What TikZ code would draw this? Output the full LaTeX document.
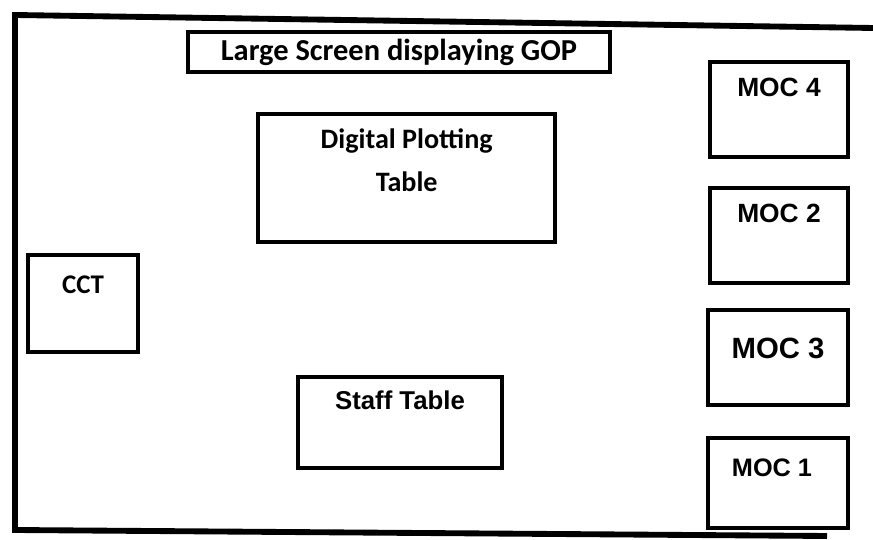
\documentclass[tikz,border=0pt]{standalone}
\usepackage{fontspec}
\setmainfont{Carlito}
\newfontfamily\arialfont{Liberation Sans}
\usetikzlibrary{positioning}

\begin{document}
\begin{tikzpicture}[
    wall/.style={line width=5pt},
    desk/.style={draw, rectangle, line width=3pt, inner sep=0pt},
    desklabel/.style={inner sep=0pt, font=\bfseries\fontsize{24}{36}\selectfont, align=center},
    moclabel/.style={inner sep=0pt, font=\arialfont\bfseries\fontsize{22.5}{27}\selectfont}
  ]
  \useasboundingbox (0,0) rectangle (26.19,16.2);

  % room outline (open on the right)
  \coordinate (topright) at (26.19,15.36);
  \coordinate (topleft) at (0.45,15.75);
  \coordinate (bottomleft) at (0.45,0.3);
  \coordinate (bottomright) at (24.81,0.12);
  \draw[wall] (topright) -- (topleft) -- (bottomleft) -- (bottomright);

  \node[desk, minimum width=12.66cm, minimum height=1.2cm, font=\bfseries\fontsize{26}{30}\selectfont] (screen) at (11.97,14.64) {Large Screen displaying GOP};

  \node[desk, minimum width=8.91cm, minimum height=3.84cm] (plot) at (12.2,10.86) {};
  \node[desklabel, below=0.5 of plot.north] (plottxt) {Digital Plotting\\Table};

  \node[desk, minimum width=3.3cm, minimum height=2.91cm] (cct) at (2.49,7.1) {};
  \node[desklabel, font=\bfseries\fontsize{23}{28}\selectfont, below=0.69 of cct.north] (ccttxt) {CCT};

  \node[desk, minimum width=6.12cm, minimum height=2.73cm] (staff) at (12.0,3.53) {};
  \node[moclabel, font=\arialfont\bfseries\fontsize{22}{26}\selectfont, below=0.48 of staff.north] (stafftxt) {Staff Table};

  % MOC stations along the right wall
  \node[desk, minimum width=4.14cm, minimum height=2.85cm] (moc4) at (23.37,12.92) {};
  \node[moclabel, below=0.54 of moc4.north] (moc4txt) {MOC 4};

  \node[desk, minimum width=4.14cm, minimum height=2.85cm] (moc2) at (23.37,9.14) {};
  \node[moclabel, below=0.54 of moc2.north] (moc2txt) {MOC 2};

  \node[desk, minimum width=4.2cm, minimum height=2.85cm] (moc3) at (23.34,5.48) {};
  \node[moclabel, font=\arialfont\bfseries\fontsize{25}{30}\selectfont, below=0.9 of moc3.north] (moc3txt) {MOC 3};

  \node[desk, minimum width=4.2cm, minimum height=2.7cm] (moc1) at (23.34,1.71) {};
  \node[moclabel, font=\arialfont\bfseries\fontsize{21.6}{26}\selectfont, below=0.66 of moc1.north, xshift=-0.18cm] (moc1txt) {MOC 1};
\end{tikzpicture}
\end{document}
